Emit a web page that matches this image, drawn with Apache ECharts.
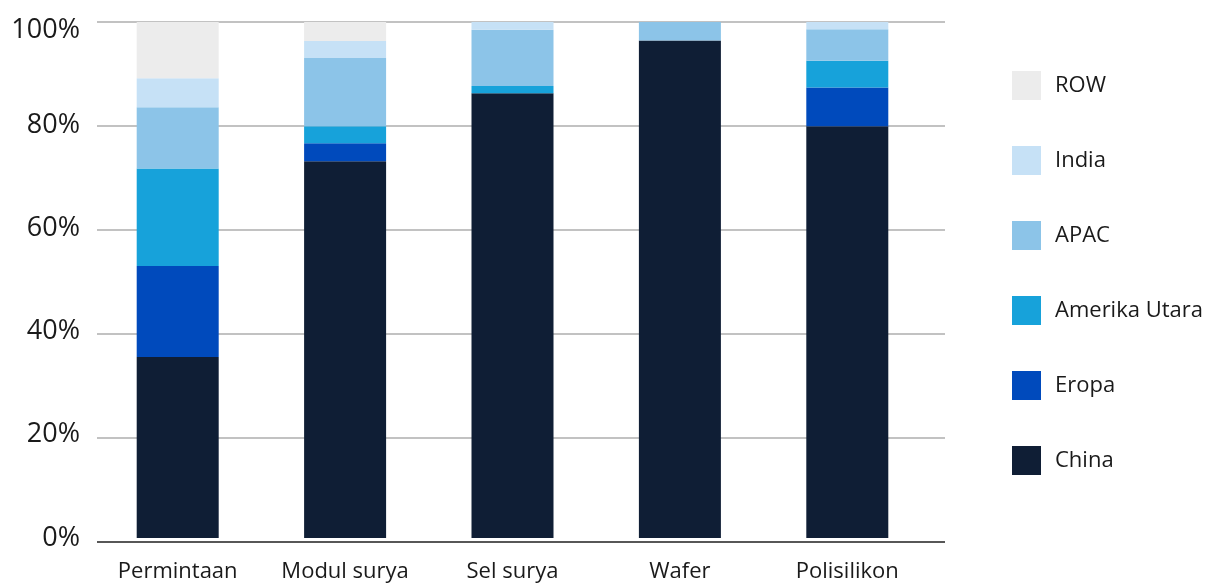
<!DOCTYPE html>
<html>
<head>
<meta charset="utf-8">
<script src="https://cdn.jsdelivr.net/npm/echarts@6/dist/echarts.min.js"></script>
<style>
  html, body { margin: 0; padding: 0; background: #fff; }
  #chart { width: 1208px; height: 583px; }
</style>
</head>
<body>
<div id="chart"></div>
<script>
// Share of solar manufacturing / demand by region (percent)
const categories = ['Permintaan', 'Modul surya', 'Sel surya', 'Wafer', 'Polisilikon'];
const china        = [35.1, 73.0, 86.2, 96.4, 79.8];
const eropa        = [17.6, 3.5, 0, 0, 7.5];
const amerikaUtara = [18.9, 3.3, 1.4, 0, 5.2];
const apac         = [11.9, 13.2, 10.9, 3.6, 6.1];
const india        = [5.6, 3.3, 1.5, 0, 1.4];
const row          = [10.9, 3.7, 0, 0, 0];
const yTicks = [0, 20, 40, 60, 80, 100];

const colors = {
  'China': '#0f1e35',
  'Eropa': '#004abc',
  'Amerika Utara': '#17a2da',
  'APAC': '#8cc4e8',
  'India': '#c6e1f6',
  'ROW': '#ececec'
};

const font = '"Open Sans", "Noto Sans", sans-serif';

function bar(name, data) {
  return {
    name: name,
    type: 'bar',
    stack: 'total',
    data: data,
    barWidth: 82,
    itemStyle: { color: colors[name] },
    emphasis: { disabled: true }
  };
}

const chart = echarts.init(document.getElementById('chart'), null, { renderer: 'canvas' });
chart.setOption({
  animation: false,
  textStyle: { fontFamily: font },
  grid: [
    // bars
    { left: 94, top: 22, width: 837, bottom: 41.7, containLabel: false },
    // background gridlines
    { left: 97, top: 22, width: 848, bottom: 41.7, containLabel: false }
  ],
  legend: {
    orient: 'vertical',
    left: 1007,
    top: 66,
    itemWidth: 29,
    itemHeight: 29,
    itemGap: 46,
    icon: 'rect',
    selectedMode: false,
    data: ['ROW', 'India', 'APAC', 'Amerika Utara', 'Eropa', 'China'],
    textStyle: { fontFamily: font, fontSize: 22, color: '#1a1a1a', padding: [0, 0, 0, 9] }
  },
  xAxis: [
    {
      type: 'category',
      gridIndex: 0,
      data: categories,
      axisLine: { show: false },
      axisTick: { show: false },
      axisLabel: { fontFamily: font, fontSize: 22, color: '#1a1a1a', margin: 23 }
    },
    {
      type: 'value',
      gridIndex: 1,
      show: false,
      min: 0,
      max: 1
    }
  ],
  yAxis: [
    {
      type: 'value',
      gridIndex: 0,
      min: 0,
      max: 100,
      interval: 20,
      axisLine: { show: false },
      axisTick: { show: false },
      splitLine: { show: false },
      axisLabel: {
        fontFamily: font,
        fontSize: 27,
        color: '#1a1a1a',
        margin: 14,
        formatter: function (v) {
          if (yTicks.indexOf(v) < 0) return '';
          return v === 100 ? '{top|100%}' : v + '%';
        },
        rich: {
          top: { fontFamily: font, fontSize: 27, color: '#1a1a1a', padding: [16, 0, 0, 0] }
        }
      }
    },
    {
      type: 'value',
      gridIndex: 1,
      min: 0,
      max: 100,
      interval: 20,
      axisLine: { show: false },
      axisTick: { show: false },
      axisLabel: { show: false },
      splitLine: { show: true, lineStyle: { color: '#c2c2c2', width: 2 } }
    }
  ],
  series: [
    bar('China', china),
    bar('Eropa', eropa),
    bar('Amerika Utara', amerikaUtara),
    bar('APAC', apac),
    bar('India', india),
    bar('ROW', row),
    {
      // zero baseline across the plot
      type: 'line',
      xAxisIndex: 1,
      yAxisIndex: 1,
      data: [],
      silent: true,
      markLine: {
        silent: true,
        symbol: 'none',
        label: { show: false },
        lineStyle: { color: '#333', width: 1.5, type: 'solid' },
        data: [{ yAxis: 0 }]
      }
    }
  ]
});
</script>
</body>
</html>
